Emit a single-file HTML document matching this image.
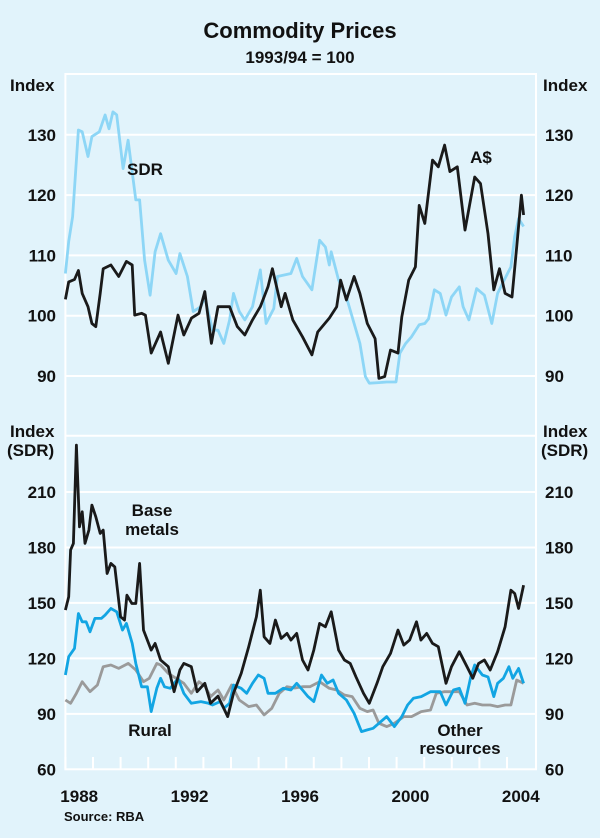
<!DOCTYPE html>
<html><head><meta charset="utf-8"><style>
html,body{margin:0;padding:0;background:#e1f3fb;}
svg{display:block;font-family:"Liberation Sans",Arial,sans-serif;}
</style></head><body>
<svg id="chart" width="600" height="838" viewBox="0 0 600 838">
<rect x="0" y="0" width="600" height="838" fill="#e1f3fb"/>
<text x="300" y="38" text-anchor="middle" font-size="22" font-weight="bold" fill="#111">Commodity Prices</text>
<text x="300" y="63" text-anchor="middle" font-size="17" font-weight="bold" fill="#111">1993/94 = 100</text>
<g id="grid"></g>
<g id="series"></g>
<g id="labels" font-size="17" font-weight="bold" fill="#111"></g>
<text x="64" y="821" font-size="13" font-weight="bold" fill="#111">Source: RBA</text>
</svg>
<script>
// ---- data (years given as years since 1900) ----
const topTicks = [90, 100, 110, 120, 130];
const botTicks = [60, 90, 120, 150, 180, 210];
const yearLabels = [1988, 1992, 1996, 2000, 2004];

const audYears = [88.00,88.12,88.33,88.47,88.61,88.82,88.96,89.10,89.26,89.37,89.65,89.93,90.21,90.42,90.51,90.76,90.90,91.11,91.45,91.73,92.08,92.29,92.57,92.84,93.05,93.29,93.53,93.95,94.23,94.50,94.78,95.06,95.34,95.50,95.82,95.96,96.24,96.59,96.93,97.14,97.56,97.83,97.97,98.18,98.46,98.67,98.94,99.22,99.36,99.57,99.78,100.05,100.19,100.44,100.68,100.82,101.02,101.30,101.51,101.74,101.93,102.20,102.48,102.83,103.04,103.31,103.52,103.73,103.93,104.18,104.35,104.52,104.60];
const audValues = [102.7,105.6,106,107.5,103.7,101.5,98.7,98.2,103.7,107.8,108.4,106.5,109,108.4,100.1,100.4,100.1,93.8,97.3,92.1,100.1,96.8,99.6,100.4,104,95.4,101.5,101.5,98.2,96.8,99.3,101.5,104.8,107.8,101.5,103.7,99.3,96.5,93.5,97.3,99.6,101.5,105.9,102.6,106.5,103.7,98.7,96.2,89.6,89.9,94.3,93.8,99.8,105.9,108.1,118.3,115.3,125.8,124.7,128.3,123.9,124.7,114.2,123,121.9,113.6,104.3,107.8,103.7,103.1,111.4,120,116.7];

const sdrYears = [88.00,88.12,88.26,88.40,88.47,88.61,88.82,88.96,89.23,89.44,89.58,89.72,89.86,90.09,90.27,90.55,90.69,90.87,91.07,91.25,91.45,91.73,92.01,92.15,92.42,92.63,92.91,93.05,93.33,93.53,93.74,93.95,94.09,94.30,94.50,94.78,95.06,95.27,95.55,95.68,96.17,96.38,96.59,96.93,97.21,97.42,97.56,97.63,97.90,98.18,98.46,98.67,98.87,99.01,99.36,99.64,99.98,100.12,100.33,100.54,100.82,101.02,101.16,101.37,101.58,101.79,101.99,102.27,102.41,102.62,102.90,103.18,103.45,103.66,103.93,104.14,104.28,104.42,104.60];
const sdrValues = [107,112.3,116.4,125.8,130.8,130.5,126.4,129.7,130.5,133.3,131,133.8,133.3,124.4,129.1,119.2,119.2,109.2,103.4,110.6,113.6,109.2,107,110.3,106.5,100.7,101.5,103.1,97.6,97.6,95.4,99.3,103.7,100.7,99.3,101.5,107.6,98.7,101.2,106.5,107,109.5,106.5,104.3,112.5,111.4,108.4,110.6,105.9,103.1,98.7,95.4,89.9,88.8,88.9,89,89,93.8,95.4,96.5,98.5,98.7,99.5,104.3,103.7,100.1,103.1,104.8,101.5,99.3,104.5,103.4,98.7,103.7,106.2,108.1,113.1,116.1,114.8];

const baseYears = [88.00,88.12,88.19,88.29,88.40,88.51,88.61,88.71,88.85,88.96,89.10,89.26,89.37,89.51,89.65,89.79,90.00,90.14,90.23,90.41,90.55,90.69,90.83,91.11,91.25,91.45,91.73,91.94,92.15,92.29,92.56,92.77,93.05,93.26,93.53,93.88,94.09,94.37,94.64,94.92,95.06,95.20,95.41,95.61,95.82,96.03,96.17,96.38,96.59,96.79,97.00,97.21,97.42,97.63,97.90,98.11,98.32,98.53,98.80,99.01,99.29,99.50,99.78,100.05,100.26,100.47,100.72,100.88,101.09,101.30,101.51,101.79,101.99,102.27,102.55,102.76,102.97,103.18,103.39,103.66,103.93,104.14,104.28,104.42,104.60];
const baseValues = [146.1,153.3,178.6,182.2,235.3,191.2,199.3,182.2,189.4,202.9,196.6,187.6,189.4,165.9,171.4,169.5,142.5,140.7,154.2,149.7,149.7,171.4,135.3,124.5,128.1,119.1,115.5,102,113.7,117.3,115.5,102,106.5,95.7,99.6,88.5,101.1,111.9,126.3,142.5,156.9,131.7,128.1,140.7,130.8,133.5,129.9,133.5,119.1,113.7,124.5,138.9,137.1,145.2,124.5,119.1,117.3,110,101.1,95.7,106.5,115.5,122.7,135.3,127.2,129.9,139.8,129.9,133.5,128.1,126.3,106.5,115.5,123.6,115.5,109.2,117.3,119.1,113.7,123.6,137.1,156.9,155.1,147,159.6];

const ruralYears = [88.00,88.12,88.33,88.47,88.61,88.75,88.89,89.07,89.30,89.44,89.65,89.86,90.07,90.21,90.42,90.55,90.76,90.97,91.11,91.31,91.45,91.59,91.80,92.08,92.29,92.56,92.91,93.19,93.33,93.60,93.74,93.95,94.09,94.37,94.57,94.78,94.99,95.20,95.34,95.61,95.89,96.17,96.38,96.59,96.79,97.00,97.28,97.49,97.70,97.90,98.18,98.46,98.73,98.94,99.15,99.36,99.64,99.92,100.19,100.40,100.61,100.89,101.23,101.58,101.79,102.06,102.27,102.48,102.69,102.83,103.11,103.31,103.52,103.66,103.87,104.07,104.21,104.42,104.60];
const ruralValues = [111,120.9,125.4,144.3,139.8,139.8,134.4,141.6,141.6,143.4,147,145.2,135.3,138.9,128.1,117.3,104.6,104.6,91.2,103.8,109.2,104.6,103.8,109.2,101.1,95.7,96.6,95.7,94.8,96.6,93,95.7,105.6,103.8,101.1,106.5,111,109.2,101.1,101.1,103.8,102.9,106.5,102.9,99.3,96.6,111,106.5,108.3,101.1,97.5,90.3,80.4,81.3,82.2,84.9,88.5,83.1,88.5,94.8,98.4,99.3,102,102,94.8,102.9,103.8,95.7,110.1,116.4,111,110,99.3,106.5,109.2,115.5,109.2,114.6,106.5];

const otherYears = [88.00,88.19,88.40,88.61,88.89,89.16,89.37,89.65,89.93,90.28,90.55,90.83,91.04,91.31,91.45,91.73,92.01,92.29,92.56,92.84,93.05,93.26,93.53,93.74,94.02,94.30,94.64,94.92,95.20,95.48,95.75,96.03,96.31,96.59,96.86,97.21,97.56,97.83,98.11,98.39,98.67,98.94,99.15,99.36,99.64,99.92,100.26,100.54,100.89,101.23,101.44,101.72,101.99,102.27,102.55,102.83,103.11,103.39,103.66,103.93,104.14,104.35,104.60];
const otherValues = [97.5,95.7,101.1,107.4,102,105.6,115.5,116.4,114.6,117.3,113.7,107.4,109.2,117.3,116.4,111.9,109.2,106.5,101.1,107.4,105,99.3,102.9,97.5,105.6,97.5,93.9,94.8,89.4,93,101.1,104.7,104,104.7,104.7,107.4,103.8,102.9,100.2,99.3,93,91.2,92.1,84.9,83.1,84.9,88.5,88.5,91.2,92.1,101.1,102,102,102,94.8,95.7,94.8,94.8,93.9,94.8,94.8,108.3,106.5];

// ---- axes ----
const X0 = 65.4, YEAR_W = 27.6, XR = 536;
function xScale(y) { return X0 + (y + 1900 - 1988) * YEAR_W; }
function yTop(v) { return 315.7 - (v - 100) * 6.03; }
function yBot(v) { return 769.3 - (v - 60) * (277.3 / 150); }

const NS = 'http://www.w3.org/2000/svg';
function mk(tag, attrs, parent) {
  const e = document.createElementNS(NS, tag);
  for (const k in attrs) e.setAttribute(k, attrs[k]);
  parent.appendChild(e);
  return e;
}
const grid = document.getElementById('grid');
const labels = document.getElementById('labels');
const series = document.getElementById('series');

let fr = mk('rect', {x: X0, y: 74, width: XR - X0, height: 769.3 - 74, fill: 'none', stroke: '#fff', 'stroke-width': 2}, grid);


let dv = mk('line', {x1: X0, x2: XR, y1: 435.7, y2: 435.7, stroke: '#fff', 'stroke-width': 2}, grid);



topTicks.forEach(t => {
  const y = yTop(t);
  const g = mk('line', {x1: X0, x2: XR, y1: y, y2: y, stroke: '#fff', 'stroke-width': 2}, grid);
  
  
  const l = mk('text', {x: 56, y: y + 6, 'text-anchor': 'end'}, labels);
  l.textContent = t;
  
  
  const r = mk('text', {x: 545, y: y + 6}, labels);
  r.textContent = t;
  
  
});
botTicks.forEach(t => {
  const y = yBot(t);
  if (t > 60) {
    const g = mk('line', {x1: X0, x2: XR, y1: y, y2: y, stroke: '#fff', 'stroke-width': 2}, grid);
    
    
  }
  const l = mk('text', {x: 56, y: y + 6, 'text-anchor': 'end'}, labels);
  l.textContent = t;
  
  
  const r = mk('text', {x: 545, y: y + 6}, labels);
  r.textContent = t;
  
  
});
for (let yr = 1988; yr <= 2004; yr++) {
  const x = X0 + (yr - 1988) * YEAR_W;
  const tk = mk('line', {x1: x, x2: x, y1: 757, y2: 769.3, stroke: '#fff', 'stroke-width': 2}, grid);
  
  
}
yearLabels.forEach(yr => {
  const x = X0 + (yr - 1988 + 0.5) * YEAR_W;
  const l = mk('text', {x: x, y: 802, 'text-anchor': 'middle'}, labels);
  l.textContent = yr;
  
  
});

[['Index', 10, 91, 'start', 'top-left-unit'], ['Index', 543, 91, 'start', 'top-right-unit'],
 ['Index', 10, 437, 'start', 'bottom-left-unit'], ['(SDR)', 7, 456, 'start', 'bottom-left-unit-sdr'],
 ['Index', 543, 437, 'start', 'bottom-right-unit'], ['(SDR)', 541, 456, 'start', 'bottom-right-unit-sdr']
].forEach(a => {
  const t = mk('text', {x: a[1], y: a[2], 'text-anchor': a[3]}, labels);
  t.textContent = a[0];
  
  
});

function drawLine(xs, vs, ys, color, w, name) {
  const d = xs.map((x, i) => (i ? 'L' : 'M') + xScale(x).toFixed(1) + ',' + ys(vs[i]).toFixed(1)).join(' ');
  const p = mk('path', {d: d, fill: 'none', stroke: color, 'stroke-width': w, 'stroke-linejoin': 'round'}, series);
  
  
}
drawLine(sdrYears, sdrValues, yTop, '#8dd6f6', 2.8, 'sdr-line');
drawLine(audYears, audValues, yTop, '#1a1a1a', 2.8, 'aud-line');
drawLine(otherYears, otherValues, yBot, '#9a9a9a', 2.8, 'other-resources-line');
drawLine(ruralYears, ruralValues, yBot, '#12a5e3', 2.8, 'rural-line');
drawLine(baseYears, baseValues, yBot, '#1a1a1a', 2.8, 'base-metals-line');

[['SDR', 145, 175, 'middle', 'sdr-label'], ['A$', 481, 163, 'middle', 'aud-label'],
 ['Base', 152, 516, 'middle', 'base-metals-label'], ['metals', 152, 535, 'middle', 'base-metals-label-2'],
 ['Rural', 150, 736, 'middle', 'rural-label'], ['Other', 460, 736, 'middle', 'other-resources-label'],
 ['resources', 460, 754, 'middle', 'other-resources-label-2']
].forEach(a => {
  const t = mk('text', {x: a[1], y: a[2], 'text-anchor': a[3]}, labels);
  t.textContent = a[0];
  
  
});
</script>
</body></html>
